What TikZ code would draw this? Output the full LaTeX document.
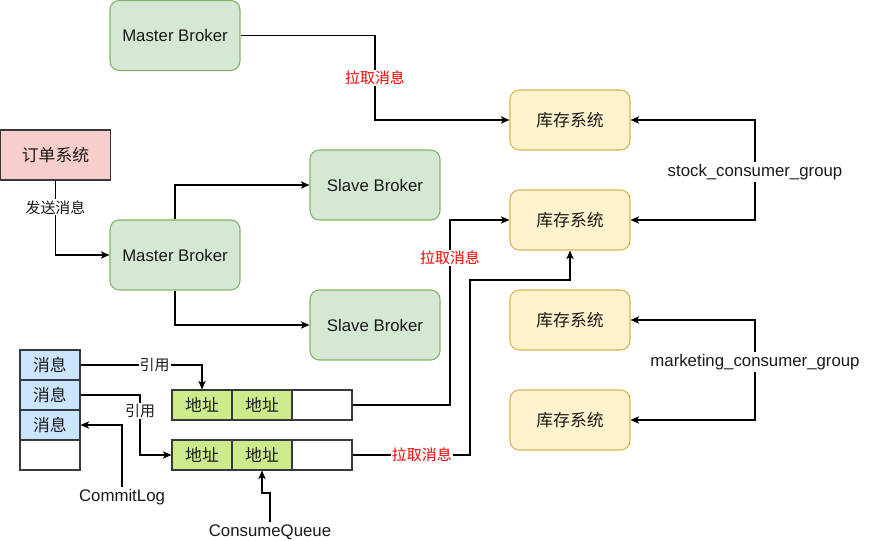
\documentclass[tikz,border=0pt]{standalone}
\usepackage{fontspec}
\setmainfont{Liberation Sans}
\newfontfamily\cjk{Noto Sans CJK SC}
\usetikzlibrary{arrows.meta}
\definecolor{gfill}{HTML}{D5E8D4}
\definecolor{gline}{HTML}{82B366}
\definecolor{yfill}{HTML}{FFF2CC}
\definecolor{yline}{HTML}{D6B656}
\definecolor{rfill}{HTML}{F8CECC}
\definecolor{dline}{HTML}{36393D}
\definecolor{bfill}{HTML}{CCE5FF}
\definecolor{lfill}{HTML}{CDEB8B}
\definecolor{txt}{HTML}{1A1A1A}
\definecolor{redtxt}{HTML}{FF0000}
\tikzset{
  base/.style={font=\fontsize{12.6pt}{14pt}\selectfont, text=txt, inner sep=0pt},
  greenbox/.style={base, draw=gline, fill=gfill, line width=0.8pt, rounded corners=7pt, minimum width=97.5pt, minimum height=52.5pt},
  yellowbox/.style={base, draw=yline, fill=yfill, line width=0.8pt, rounded corners=7pt, minimum width=90pt, minimum height=45pt},
  redbox/.style={base, draw=dline, fill=rfill, line width=0.8pt, minimum width=82.5pt, minimum height=37.5pt},
  cell/.style={base, draw=dline, line width=0.8pt, minimum width=45pt, minimum height=22.5pt},
  bluecell/.style={cell, fill=bfill},
  limecell/.style={cell, fill=lfill},
  whitecell/.style={cell, fill=white},
  plain/.style={base, fill=white, inner sep=1.5pt},
  lbl/.style={font=\fontsize{11.2pt}{13pt}\selectfont\cjk, text=txt, fill=white, inner sep=0.8pt},
  redlbl/.style={lbl, text=redtxt},
  arr/.style={draw=black, line width=0.9pt, -{Stealth[length=6.5pt, width=5.5pt, inset=1.8pt]}},
}
\begin{document}
\begin{tikzpicture}[x=0.75pt, y=-0.75pt]
\useasboundingbox (0,0) rectangle (871,541);
% brokers
\node[greenbox] (m1) at (175,35.5) {Master Broker};
\node[redbox] (order) at (55.5,155) {\cjk 订单系统};
\node[greenbox] (m2) at (175,255) {Master Broker};
\node[greenbox] (s1) at (375,185) {Slave Broker};
\node[greenbox] (s2) at (375,325) {Slave Broker};
% consumers
\node[yellowbox] (k1) at (570,120) {\cjk 库存系统};
\node[yellowbox] (k2) at (570,220) {\cjk 库存系统};
\node[yellowbox] (k3) at (570,320) {\cjk 库存系统};
\node[yellowbox] (k4) at (570,420) {\cjk 库存系统};
% commit log
\node[bluecell] (c1) at (50,365) {\cjk 消息};
\node[bluecell] (c2) at (50,395) {\cjk 消息};
\node[bluecell] (c3) at (50,425) {\cjk 消息};
\node[whitecell] (c4) at (50,455) {};
% consume queues
\node[limecell] (q1a) at (202,405) {\cjk 地址};
\node[limecell] (q1b) at (262,405) {\cjk 地址};
\node[whitecell] (q1c) at (322,405) {};
\node[limecell] (q2a) at (202,455) {\cjk 地址};
\node[limecell] (q2b) at (262,455) {\cjk 地址};
\node[whitecell] (q2c) at (322,455) {};
% text labels
\node[plain] (sg) at (755,172) {stock\_consumer\_group};
\node[plain] (mg) at (755,362) {marketing\_consumer\_group};
\node[plain] (cl) at (122,497) {CommitLog};
\node[plain] (cq) at (270,532) {ConsumeQueue};
% connectors
\draw[arr] (m1.east) -- (375,35.5) -- node[redlbl] (l1) {拉取消息} (375,120) -- (k1.west);
\draw[arr] (order.south) -- node[lbl, pos=0.36] (l2) {发送消息} (55.5,255) -- (m2.west);
\draw[arr] (m2.north) |- (s1.west);
\draw[arr] (m2.south) |- (s2.west);
\draw[arr] (q1c.east) -- (450,405) -- node[redlbl, pos=0.795] (l3) {拉取消息} (450,220) -- (k2.west);
\draw[arr] (q2c.east) -- node[redlbl, pos=0.59] (l4) {拉取消息} (470,455) -- (470,280) -- (570,280) -- (k2.south);
\draw[arr] (sg.north) |- (k1.east);
\draw[arr] (sg.south) |- (k2.east);
\draw[arr] (mg.north) |- (k3.east);
\draw[arr] (mg.south) |- (k4.east);
\draw[arr] (c1.east) -- node[lbl, pos=0.61] (l5) {引用} (202,365) -- (q1a.north);
\draw[arr] (c2.east) -- (140,395) -- node[lbl, pos=0.27] (l6) {引用} (140,455) -- (q2a.west);
\draw[arr] (cl.north) |- (c3.east);
\draw[arr] (cq.north) -- (270,493) -- (262,493) -- (q2b.south);
\end{tikzpicture}
\end{document}
